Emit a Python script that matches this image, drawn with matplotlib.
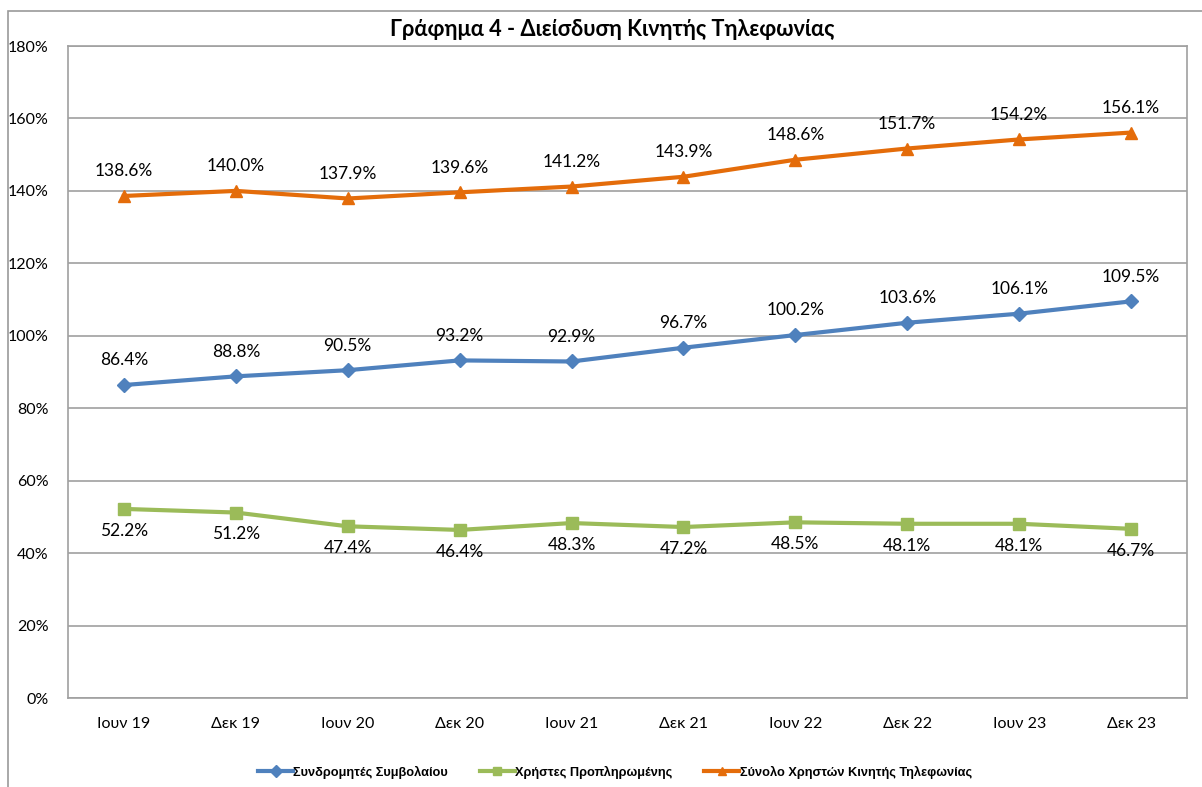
import matplotlib
matplotlib.use("Agg")
import matplotlib.pyplot as plt
from matplotlib.patches import Rectangle
from matplotlib.ticker import FuncFormatter, MultipleLocator

categories = ["Ιουν 19", "Δεκ 19", "Ιουν 20", "Δεκ 20", "Ιουν 21", "Δεκ 21",
              "Ιουν 22", "Δεκ 22", "Ιουν 23", "Δεκ 23"]
contract = [86.4, 88.8, 90.5, 93.2, 92.9, 96.7, 100.2, 103.6, 106.1, 109.5]
prepaid = [52.2, 51.2, 47.4, 46.4, 48.3, 47.2, 48.5, 48.1, 48.1, 46.7]
total = [138.6, 140.0, 137.9, 139.6, 141.2, 143.9, 148.6, 151.7, 154.2, 156.1]
series_names = ["Συνδρομητές Συμβολαίου", "Χρήστες Προπληρωμένης",
                "Σύνολο Χρηστών Κινητής Τηλεφωνίας"]
title = "Γράφημα 4 - Διείσδυση Κινητής Τηλεφωνίας"

W, H = 1202, 787
fig = plt.figure(figsize=(W / 100, H / 100), dpi=100)
ax = fig.add_axes([68 / W, 1 - 698 / H, (1187 - 68) / W, (698 - 46) / H])

# outer chart border
fig.patches.append(Rectangle((8 / W, -0.05), 1.2, 1 - 11 / H + 0.05,
                             transform=fig.transFigure, fill=False,
                             edgecolor="#9a9a9a", linewidth=1.2))

font = "Lato"
x = list(range(len(categories)))
blue, green, orange = "#4F81BD", "#9BBB59", "#E46C0A"

ax.plot(x, contract, color=blue, lw=3, marker="D", ms=7, label=series_names[0], zorder=3)
ax.plot(x, prepaid, color=green, lw=3, marker="s", ms=9, label=series_names[1], zorder=3)
ax.plot(x, total, color=orange, lw=3, marker="^", ms=9, label=series_names[2], zorder=3)

for xi, v in zip(x, contract):
    ax.annotate(f"{v:.1f}%", (xi, v), xytext=(0, 12), textcoords="offset points",
                ha="center", va="bottom", fontsize=12.5, family=font)
for xi, v in zip(x, total):
    ax.annotate(f"{v:.1f}%", (xi, v), xytext=(0, 12), textcoords="offset points",
                ha="center", va="bottom", fontsize=12.5, family=font)
for xi, v in zip(x, prepaid):
    ax.annotate(f"{v:.1f}%", (xi, v), xytext=(0, -10), textcoords="offset points",
                ha="center", va="top", fontsize=12.5, family=font)

ax.set_xlim(-0.5, len(categories) - 0.5)
ax.set_ylim(0, 180)
ax.yaxis.set_major_locator(MultipleLocator(20))
ax.yaxis.set_major_formatter(FuncFormatter(lambda v, p: f"{v:.0f}%"))
ax.set_xticks(x)
ax.set_xticklabels(categories)
ax.grid(axis="y", color="#a0a0a0", lw=1.2)
ax.set_axisbelow(True)
for s in ax.spines.values():
    s.set_color("#a0a0a0")
    s.set_linewidth(1.2)
ax.tick_params(axis="both", length=0, labelsize=11.5)
ax.tick_params(axis="x", pad=14)
ax.tick_params(axis="y", pad=14)
for lbl in ax.get_xticklabels() + ax.get_yticklabels():
    lbl.set_family(font)

fig.text(612 / W, 1 - 30 / H, title, ha="center", va="center",
         fontsize=15.7, fontweight="bold", family=font)

leg = fig.legend(loc="center", bbox_to_anchor=(615 / W, 1 - 772 / H), ncol=3,
                 frameon=False, handlelength=2.7, columnspacing=2.5,
                 handletextpad=0.05,
                 prop={"family": ["Liberation Sans Narrow", "Liberation Sans"],
                       "weight": "bold", "size": 9.2})
for h in leg.legend_handles:
    h.set_markersize(6)

fig.savefig("out.png", dpi=100)
